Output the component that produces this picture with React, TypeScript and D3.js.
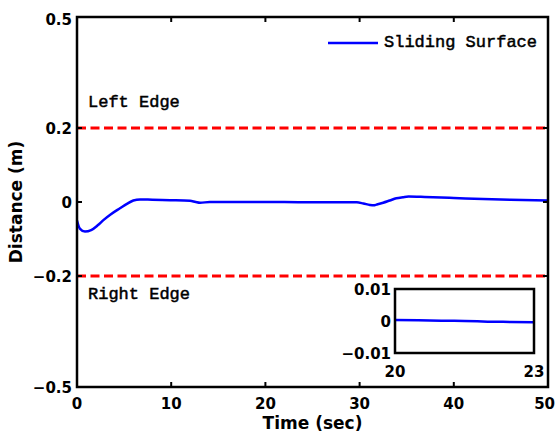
import React from "react";
import * as d3 from "d3";

const timeSec = [0, 0.3, 0.85, 1.5, 2.2, 2.8, 3.6, 4.56, 5.3, 5.98, 6.7, 8, 9.9, 12, 12.6, 13.06, 14.1, 16, 19.4, 22, 25, 28, 29.7, 30.4, 31.1, 31.5, 31.8, 32.5, 33.2, 33.9, 34.6, 35.2, 36.5, 37.8, 40, 43.1, 46, 50];
const distance = [-0.05, -0.072, -0.08, -0.076, -0.063, -0.049, -0.033, -0.017, -0.005, 0.004, 0.007, 0.006, 0.005, 0.0035, 0.0, -0.002, 0.0, 0.0, 0.0, 0.0, -0.001, -0.001, -0.001, -0.004, -0.008, -0.009, -0.007, -0.002, 0.004, 0.01, 0.013, 0.015, 0.014, 0.013, 0.011, 0.008, 0.006, 0.004];

const insetTime = [20, 20.5, 21, 21.5, 22, 22.5, 23];
const insetDistance = [0.0003, 0.0002, 0.0001, 0.0, -0.0002, -0.0003, -0.0004];

const xTicks = [0, 10, 20, 30, 40, 50];
const yTicks = [0.5, 0.2, 0, -0.2, -0.5];
const yTickLabels = ["0.5", "0.2", "0", "\u22120.2", "\u22120.5"];
const edgeLevels = [0.2, -0.2];
const edgeLabels = ["Left Edge", "Right Edge"];
const insetXTicks = [20, 23];
const insetYTicks = [0.01, 0, -0.01];
const insetYTickLabels = ["0.01", "0", "\u22120.01"];
const seriesName = "Sliding Surface";

const W = 556;
const H = 434;

export default function App() {
  const x = d3.scaleLinear().domain([0, 50]).range([77, 548]);
  const y = d3.scaleLinear().domain([-0.5, 0.5]).range([387, 17]);
  const xi = d3.scaleLinear().domain([20, 23]).range([395, 534]);
  const yi = d3.scaleLinear().domain([-0.01, 0.01]).range([353, 289]);

  const line = d3
    .line<number>()
    .x((_, i) => x(timeSec[i]))
    .y((d) => y(d))
    .curve(d3.curveMonotoneX);
  const insetLine = d3
    .line<number>()
    .x((_, i) => xi(insetTime[i]))
    .y((d) => yi(d))
    .curve(d3.curveMonotoneX);

  const tickFont = "'DejaVu Sans', sans-serif";
  const titleFont = "'DejaVu Sans', sans-serif";
  const monoFont = "'Liberation Mono', 'Courier New', monospace";

  return (
    <svg width={W} height={H} style={{ position: "absolute", left: 0, top: 0, background: "#fff" }}>
      <rect x={0} y={0} width={W} height={H} fill="#fff" />
      {edgeLevels.map((v, i) => (
        <line key={"e" + i} x1={x(0)} x2={x(50)} y1={y(v)} y2={y(v)} stroke="#ff0000" strokeWidth={3} strokeDasharray="9,4.5" />
      ))}
      <text x={88} y={107} fontFamily={monoFont} fontSize={17} fill="#000" stroke="#000" strokeWidth={0.5}>{edgeLabels[0]}</text>
      <text x={88} y={299} fontFamily={monoFont} fontSize={17} fill="#000" stroke="#000" strokeWidth={0.5}>{edgeLabels[1]}</text>
      <path d={line(distance) || ""} fill="none" stroke="#0000ff" strokeWidth={2.5} />
      <line x1={328} x2={378} y1={43} y2={43} stroke="#0000ff" strokeWidth={2.5} />
      <text x={384} y={47} fontFamily={monoFont} fontSize={17} fill="#000" stroke="#000" strokeWidth={0.5}>{seriesName}</text>
      <rect x={x(0)} y={y(0.5)} width={x(50) - x(0)} height={y(-0.5) - y(0.5)} fill="none" stroke="#000" strokeWidth={2.5} />
      {xTicks.map((t) => (
        <g key={"xt" + t}>
          <line x1={x(t)} x2={x(t)} y1={y(-0.5)} y2={y(-0.5) - 5} stroke="#000" strokeWidth={2} />
          <line x1={x(t)} x2={x(t)} y1={y(0.5)} y2={y(0.5) + 5} stroke="#000" strokeWidth={2} />
          <text x={t === 50 ? 555 : x(t)} y={409} textAnchor={t === 50 ? "end" : "middle"} fontFamily={tickFont} fontWeight="bold" fontSize={15} fill="#000">{t}</text>
        </g>
      ))}
      {yTicks.map((t, i) => (
        <g key={"yt" + t}>
          <line x1={x(0)} x2={x(0) + 5} y1={y(t)} y2={y(t)} stroke="#000" strokeWidth={2} />
          <line x1={x(50)} x2={x(50) - 5} y1={y(t)} y2={y(t)} stroke="#000" strokeWidth={2} />
          <text x={72} y={y(t) + (t === 0.5 ? 8 : 6)} textAnchor="end" fontFamily={tickFont} fontWeight="bold" fontSize={15} fill="#000">{yTickLabels[i]}</text>
        </g>
      ))}
      <text x={x(25)} y={429} textAnchor="middle" fontFamily={titleFont} fontWeight="bold" fontSize={17} fill="#000">Time (sec)</text>
      <text transform={`translate(22, ${y(0)}) rotate(-90)`} textAnchor="middle" fontFamily={titleFont} fontWeight="bold" fontSize={17} fill="#000">Distance (m)</text>
      <rect x={xi(20)} y={yi(0.01)} width={xi(23) - xi(20)} height={yi(-0.01) - yi(0.01)} fill="#fff" stroke="none" />
      <path d={insetLine(insetDistance) || ""} fill="none" stroke="#0000ff" strokeWidth={2.5} />
      <rect x={xi(20)} y={yi(0.01)} width={xi(23) - xi(20)} height={yi(-0.01) - yi(0.01)} fill="none" stroke="#000" strokeWidth={2.5} />
      {insetYTicks.map((t, i) => (
        <text key={"iy" + t} x={391} y={yi(t) + 6} textAnchor="end" fontFamily={tickFont} fontWeight="bold" fontSize={15} fill="#000">{insetYTickLabels[i]}</text>
      ))}
      {insetXTicks.map((t) => (
        <text key={"ix" + t} x={xi(t)} y={377} textAnchor="middle" fontFamily={tickFont} fontWeight="bold" fontSize={15} fill="#000">{t}</text>
      ))}
    </svg>
  );
}
